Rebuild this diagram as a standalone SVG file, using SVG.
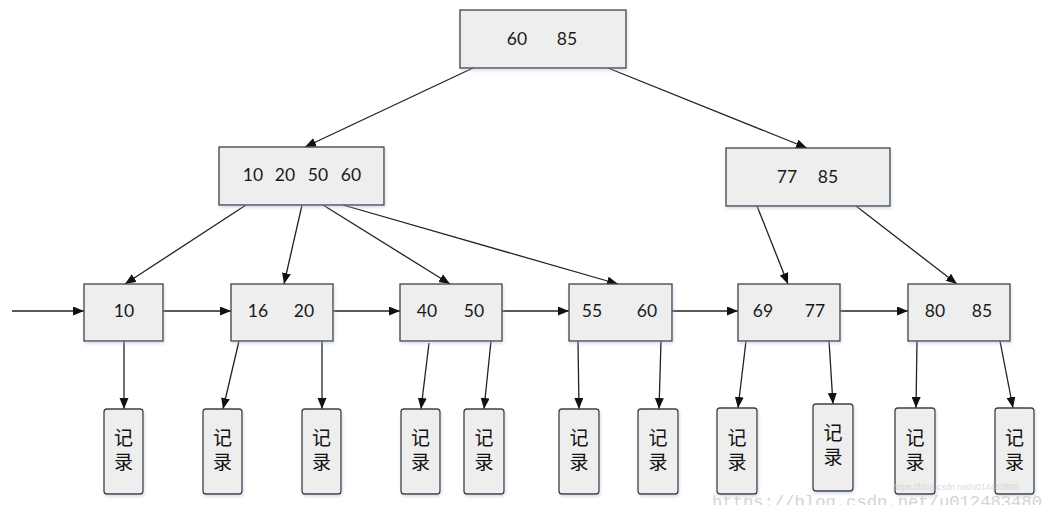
<svg xmlns="http://www.w3.org/2000/svg" width="1059" height="519" viewBox="0 0 1059 519">
<style>
.box{fill:#eeeeee;stroke:#404040;stroke-width:1.3;filter:url(#sh)}
.rec{fill:#eeeeee;stroke:#404040;stroke-width:1.3;filter:url(#sh)}
.num{font-family:Lato,"Open Sans",sans-serif;font-size:17.5px;fill:#1a1a1a;text-anchor:middle}
.cjk{font-family:"Noto Sans CJK SC",sans-serif;font-size:19px;fill:#111;text-anchor:middle;writing-mode:tb;letter-spacing:5px}
.con line{stroke:#222;stroke-width:1.3;marker-end:url(#ah)}
.wm{font-family:"Liberation Mono",monospace;font-size:17.2px;fill:#d4d4d4}
.wm2{font-family:"Liberation Sans",sans-serif;font-size:8.5px;fill:#cfcfcf;fill-opacity:0.8}
</style>
<defs>
<marker id="ah" markerUnits="userSpaceOnUse" markerWidth="12" markerHeight="10" refX="11" refY="4.5" orient="auto">
<path d="M0,0 L11,4.5 L0,9 z" fill="#111"/>
</marker>
<filter id="sh" x="-10%" y="-10%" width="130%" height="140%">
<feDropShadow dx="1" dy="2" stdDeviation="1.5" flood-color="#9db8dc" flood-opacity="0.45"/>
</filter>
<clipPath id="wmclip"><rect x="0" y="0" width="1059" height="505"/></clipPath>
</defs>
<rect width="1059" height="519" fill="#ffffff"/>

<g class="con" id="connectors">
<line x1="473" y1="68" x2="305" y2="147"/>
<line x1="608" y1="68" x2="807" y2="148"/>
<line x1="246" y1="205" x2="125" y2="284"/>
<line x1="302" y1="205" x2="284" y2="284"/>
<line x1="323" y1="205" x2="450" y2="284"/>
<line x1="343" y1="205" x2="618" y2="284"/>
<line x1="757" y1="206" x2="788" y2="284"/>
<line x1="856" y1="206" x2="957" y2="284"/>
<line x1="12" y1="311" x2="84" y2="311"/>
<line x1="163" y1="311" x2="231" y2="311"/>
<line x1="333" y1="311" x2="400" y2="311"/>
<line x1="502" y1="311" x2="569" y2="311"/>
<line x1="672" y1="311" x2="738" y2="311"/>
<line x1="840" y1="311" x2="908" y2="311"/>
<line x1="124" y1="341" x2="124" y2="409"/>
<line x1="239" y1="341" x2="223" y2="409"/>
<line x1="322" y1="341" x2="322" y2="409"/>
<line x1="429" y1="343" x2="421" y2="409"/>
<line x1="491" y1="341" x2="484" y2="409"/>
<line x1="578" y1="341" x2="579" y2="409"/>
<line x1="661" y1="341" x2="659" y2="409"/>
<line x1="746" y1="341" x2="738" y2="408"/>
<line x1="829" y1="341" x2="833" y2="404"/>
<line x1="917" y1="341" x2="916" y2="408"/>
<line x1="1000" y1="341" x2="1013" y2="408"/>
</g>

<g id="root"><rect class="box" x="460" y="10" width="166" height="58"/>
<text class="num" x="517" y="45">60</text><text class="num" x="567" y="45">85</text></g>
<g id="inner-left"><rect class="box" x="219" y="147" width="165" height="58"/>
<text class="num" x="253" y="181">10</text><text class="num" x="285" y="181">20</text><text class="num" x="318" y="181">50</text><text class="num" x="351" y="181">60</text></g>
<g id="inner-right"><rect class="box" x="726" y="148" width="164" height="58"/>
<text class="num" x="787" y="183">77</text><text class="num" x="828" y="183">85</text></g>

<g id="leaf1"><rect class="box" x="84" y="284" width="79" height="57"/><text class="num" x="124" y="317">10</text></g>
<g id="leaf2"><rect class="box" x="231" y="284" width="102" height="57"/><text class="num" x="258" y="317">16</text><text class="num" x="304" y="317">20</text></g>
<g id="leaf3"><rect class="box" x="400" y="284" width="102" height="57"/><text class="num" x="427" y="317">40</text><text class="num" x="474" y="317">50</text></g>
<g id="leaf4"><rect class="box" x="569" y="284" width="103" height="57"/><text class="num" x="592" y="317">55</text><text class="num" x="647" y="317">60</text></g>
<g id="leaf5"><rect class="box" x="738" y="284" width="102" height="57"/><text class="num" x="763" y="317">69</text><text class="num" x="815" y="317">77</text></g>
<g id="leaf6"><rect class="box" x="908" y="284" width="102" height="57"/><text class="num" x="935" y="317">80</text><text class="num" x="982" y="317">85</text></g>

<g id="rec1"><rect class="rec" x="104" y="409" width="39" height="85" rx="3"/><text class="cjk" x="123.5" y="452">记录</text></g>
<g id="rec2"><rect class="rec" x="203" y="409" width="39" height="85" rx="3"/><text class="cjk" x="222.5" y="452">记录</text></g>
<g id="rec3"><rect class="rec" x="302" y="409" width="39" height="85" rx="3"/><text class="cjk" x="321.5" y="452">记录</text></g>
<g id="rec4"><rect class="rec" x="401" y="409" width="39" height="85" rx="3"/><text class="cjk" x="420.5" y="452">记录</text></g>
<g id="rec5"><rect class="rec" x="464" y="409" width="40" height="85" rx="3"/><text class="cjk" x="484" y="452">记录</text></g>
<g id="rec6"><rect class="rec" x="559" y="409" width="40" height="85" rx="3"/><text class="cjk" x="579" y="452">记录</text></g>
<g id="rec7"><rect class="rec" x="638" y="409" width="40" height="85" rx="3"/><text class="cjk" x="658" y="452">记录</text></g>
<g id="rec8"><rect class="rec" x="717" y="408" width="40" height="86" rx="3"/><text class="cjk" x="737" y="452">记录</text></g>
<g id="rec9"><rect class="rec" x="813" y="404" width="40" height="87" rx="3"/><text class="cjk" x="833" y="447">记录</text></g>
<g id="rec10"><rect class="rec" x="895" y="408" width="40" height="86" rx="3"/><text class="cjk" x="915" y="452">记录</text></g>
<g id="rec11"><rect class="rec" x="995" y="408" width="39" height="86" rx="3"/><text class="cjk" x="1014.5" y="452">记录</text></g>

<g id="watermark" clip-path="url(#wmclip)">
<text class="wm" x="712" y="507">https://blog.csdn.net/u012483480</text>
</g>
<text class="wm2" x="893" y="490">https://blog.csdn.net/u014453898</text>
</svg>
